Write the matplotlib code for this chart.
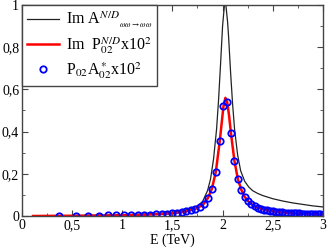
import matplotlib
matplotlib.use('Agg')
import matplotlib.pyplot as plt
from matplotlib.ticker import FixedLocator, FixedFormatter, MultipleLocator

plt.rcParams['font.family'] = ['Liberation Serif', 'DejaVu Serif']
plt.rcParams['mathtext.fontset'] = 'stix'

# Im A (N/D), omega omega -> omega omega
a_e = [0.11, 0.5, 0.8, 1.0, 1.2, 1.4, 1.5, 1.6, 1.7, 1.75, 1.8, 1.85, 1.88, 1.91,
       1.94, 1.96, 1.98, 2.0, 2.015, 2.025, 2.035, 2.05, 2.06, 2.08, 2.1, 2.12,
       2.15, 2.18, 2.22, 2.26, 2.3, 2.35, 2.4, 2.5, 2.6, 2.7, 2.8, 2.9, 3.0]
a_val = [0.0, 0.002, 0.004, 0.006, 0.009, 0.014, 0.018, 0.025, 0.037, 0.048, 0.068,
         0.12, 0.175, 0.27, 0.41, 0.55, 0.72, 0.9, 0.98, 1.03, 0.99, 0.92, 0.85,
         0.68, 0.53, 0.41, 0.29, 0.215, 0.165, 0.138, 0.12, 0.107, 0.097, 0.082,
         0.071, 0.062, 0.055, 0.048, 0.043]

# Im P02 (N/D) x 10^2
p_e = [0.11, 0.37, 0.536, 0.766, 0.942, 1.09, 1.219, 1.337, 1.445, 1.545, 1.639,
       1.728, 1.771, 1.813, 1.854, 1.894, 1.933, 1.972, 2.009, 2.028, 2.046, 2.065,
       2.083, 2.118, 2.153, 2.188, 2.222, 2.255, 2.288, 2.321, 2.385, 2.447, 2.507,
       2.567, 2.624, 2.681, 2.736, 2.791, 2.844, 2.896, 2.947, 2.998]
p_val = [0.0, 0.001, 0.001, 0.002, 0.003, 0.004, 0.006, 0.008, 0.011, 0.015, 0.022,
         0.034, 0.044, 0.058, 0.085, 0.13, 0.21, 0.355, 0.52, 0.56, 0.54, 0.475,
         0.395, 0.262, 0.174, 0.123, 0.09, 0.07, 0.056, 0.046, 0.034, 0.027, 0.022,
         0.018, 0.016, 0.014, 0.012, 0.011, 0.01, 0.009, 0.008, 0.007]

# P02 A*02 x 10^2
c_e = [0.370, 0.536, 0.661, 0.766, 0.858, 0.942, 1.018, 1.090, 1.156, 1.219,
       1.279, 1.337, 1.392, 1.445, 1.496, 1.545, 1.593, 1.639, 1.684, 1.728,
       1.771, 1.813, 1.854, 1.894, 1.933, 1.972, 2.009, 2.046, 2.083, 2.118,
       2.153, 2.188, 2.222, 2.255, 2.288, 2.321, 2.353, 2.385, 2.416, 2.447,
       2.477, 2.507, 2.537, 2.567, 2.596, 2.624, 2.653, 2.681, 2.709, 2.736,
       2.764, 2.791, 2.817, 2.844, 2.870, 2.896, 2.922, 2.947, 2.973, 2.998]
c_val = [0.001, 0.001, 0.002, 0.002, 0.003, 0.003, 0.004, 0.004, 0.005, 0.006,
         0.007, 0.008, 0.009, 0.011, 0.013, 0.015, 0.018, 0.022, 0.027, 0.034,
         0.044, 0.058, 0.085, 0.130, 0.210, 0.355, 0.520, 0.540, 0.395, 0.262,
         0.174, 0.123, 0.090, 0.070, 0.056, 0.046, 0.039, 0.034, 0.030, 0.027,
         0.024, 0.022, 0.020, 0.018, 0.017, 0.016, 0.015, 0.014, 0.013, 0.012,
         0.012, 0.011, 0.010, 0.010, 0.009, 0.009, 0.008, 0.008, 0.008, 0.007]

xticks = [0, 0.5, 1, 1.5, 2, 2.5, 3]
xlabels = ['0', '0,5', '1', '1,5', '2', '2,5', '3']
yticks = [0, 0.2, 0.4, 0.6, 0.8, 1]
ylabels = ['0', '0,2', '0,4', '0,6', '0,8', '1']

fig = plt.figure(figsize=(3.27, 2.48), dpi=100)
ax = fig.add_axes([0.0673, 0.129, 0.920, 0.851])

ax.plot(a_e, a_val, color='#222222', lw=0.9,
        label=r'Im A$^{N/D}{}_{{}_{\omega\omega\rightarrow\omega\omega}}$')
ax.plot(p_e, p_val, color='red', lw=1.8, label=r'Im  P$_{02}^{N/D}$x10$^2$')
ax.plot(c_e, c_val, ls='none', marker='o', ms=4.6, mfc='none', mec='blue',
        mew=1.3, label=r'P$_{02}$A$^*_{02}$x10$^2$')

ax.set_xlim(0, 3)
ax.set_ylim(0, 1)
ax.xaxis.set_major_locator(FixedLocator(xticks))
ax.xaxis.set_major_formatter(FixedFormatter(xlabels))
ax.yaxis.set_major_locator(FixedLocator(yticks))
ax.yaxis.set_major_formatter(FixedFormatter(ylabels))
ax.xaxis.set_minor_locator(MultipleLocator(0.25))
ax.yaxis.set_minor_locator(MultipleLocator(0.1))
ax.tick_params(which='both', direction='in', top=True, right=True,
               labelsize=10, pad=2, color='#444444')
ax.tick_params(which='major', length=4.5)
ax.tick_params(which='minor', length=2.5)
for s in ax.spines.values():
    s.set_color('#444444')
    s.set_linewidth(1.0)

ax.set_xlabel('E (TeV)', fontsize=10, labelpad=1)

leg = ax.legend(loc='upper left', borderaxespad=0, fancybox=False,
                framealpha=1, edgecolor='#444444', fontsize=11.5,
                handlelength=2.0, labelspacing=0.3, borderpad=0.3,
                handletextpad=0.45)
leg.get_frame().set_linewidth(1.0)

fig.savefig('out.png', dpi=100)
